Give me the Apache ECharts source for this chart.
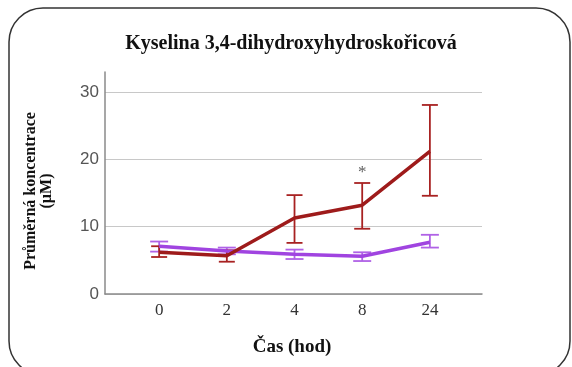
<!DOCTYPE html>
<html>
<head>
<meta charset="utf-8">
<script src="https://cdn.jsdelivr.net/npm/echarts@6/dist/echarts.min.js"></script>
<style>
html, body { margin: 0; padding: 0; background: #fff; }
#chart { width: 572px; height: 367px; }
</style>
</head>
<body>
<div id="chart"></div>
<script>
// casove body (hod)
var categories = ['0', '2', '4', '8', '24'];
var yTicks = [0, 10, 20, 30];

// cervena skupina
var redMean = [6.2, 5.7, 11.3, 13.2, 21.2];
var redLow = [5.5, 4.8, 7.6, 9.7, 14.6];
var redHigh = [7.1, 6.5, 14.7, 16.5, 28.1];

// fialova skupina
var purpleMean = [7.1, 6.4, 5.9, 5.6, 7.7];
var purpleLow = [6.3, 5.9, 5.2, 4.9, 6.9];
var purpleHigh = [7.8, 6.9, 6.6, 6.2, 8.8];

// vyznamnost (*) u indexu
var sigIndex = [3];

var serif = '"Liberation Serif", "DejaVu Serif", serif';
var sans = '"Liberation Sans", Arial, sans-serif';

function pts(arr) {
	return arr.map(function (v, i) { return [i, v]; });
}

function errData(lo, hi) {
	return lo.map(function (v, i) { return [i, v, hi[i]]; });
}

function errSeries(name, lo, hi, color, w) {
	return {
		name: name,
		type: 'custom',
		z: 3,
		data: errData(lo, hi),
		renderItem: function (params, api) {
			var x = api.value(0);
			var a = api.coord([x, api.value(1)]);
			var b = api.coord([x, api.value(2)]);
			var style = { stroke: color, lineWidth: 1.8, fill: null };
			return {
				type: 'group',
				children: [
					{ type: 'line', shape: { x1: a[0], y1: a[1], x2: b[0], y2: b[1] }, style: style },
					{ type: 'line', shape: { x1: a[0] - w, y1: a[1], x2: a[0] + w, y2: a[1] }, style: style },
					{ type: 'line', shape: { x1: b[0] - w, y1: b[1], x2: b[0] + w, y2: b[1] }, style: style }
				]
			};
		}
	};
}

var chart = echarts.init(document.getElementById('chart'));

var options = {
	backgroundColor: '#fff',
	animation: false,
	grid: { left: 105, right: 90, top: 72, bottom: 73 },
	xAxis: {
		type: 'value',
		min: -0.8,
		max: 4.77,
		axisLine: { onZero: false, lineStyle: { color: '#8a8a8a', width: 1.5 } },
		axisTick: { show: false },
		splitLine: { show: false },
		axisLabel: {
			customValues: [0, 1, 2, 3, 4],
			formatter: function (v) { return categories[Math.round(v)]; },
			color: '#333',
			fontFamily: serif,
			fontSize: 17,
			margin: 8
		}
	},
	yAxis: {
		type: 'value',
		min: 0,
		max: 33,
		axisLine: { show: true, onZero: false, lineStyle: { color: '#8a8a8a', width: 1.5 } },
		axisTick: { show: false, customValues: yTicks },
		axisLabel: {
			customValues: yTicks,
			color: '#555',
			fontFamily: sans,
			fontSize: 17,
			margin: 6
		},
		splitLine: { show: true, lineStyle: { color: '#c8c8c8', width: 1 } }
	},
	graphic: [
		{
			type: 'rect',
			shape: { x: 9, y: 8, width: 561, height: 367, r: 34 },
			style: { fill: null, stroke: '#333', lineWidth: 1.5 },
			silent: true
		},
		{
			type: 'text',
			x: 291, y: 44,
			style: {
				text: 'Kyselina 3,4-dihydroxyhydroskořicová',
				font: 'bold 20px ' + serif,
				fill: '#111',
				align: 'center',
				verticalAlign: 'middle'
			}
		},
		{
			type: 'text',
			x: 292, y: 347,
			style: {
				text: 'Čas (hod)',
				font: 'bold 19px ' + serif,
				fill: '#111',
				align: 'center',
				verticalAlign: 'middle'
			}
		},
		{
			type: 'text',
			x: 39, y: 191,
			rotation: Math.PI / 2,
			style: {
				text: 'Průměrná koncentrace\n(µM)',
				font: 'bold 16px ' + serif,
				lineHeight: 16,
				fill: '#111',
				align: 'center',
				verticalAlign: 'middle'
			}
		}
	],
	series: [
		errSeries('purpleErr', purpleLow, purpleHigh, '#b062e6', 9),
		errSeries('redErr', redLow, redHigh, '#a82222', 8),
		{
			name: 'purple',
			type: 'line',
			z: 4,
			data: pts(purpleMean),
			symbol: 'none',
			lineStyle: { color: '#a044e0', width: 3.5 }
		},
		{
			name: 'red',
			type: 'line',
			z: 5,
			data: pts(redMean),
			symbol: 'none',
			lineStyle: { color: '#9e1b1b', width: 3.5 }
		},
		{
			name: 'sig',
			type: 'scatter',
			symbolSize: 0,
			data: sigIndex.map(function (i) { return [i, redHigh[i]]; }),
			label: {
				show: true,
				position: 'top',
				distance: 2,
				formatter: '*',
				color: '#333',
				fontFamily: serif,
				fontSize: 17
			}
		}
	]
};

chart.setOption(options);
</script>
</body>
</html>
